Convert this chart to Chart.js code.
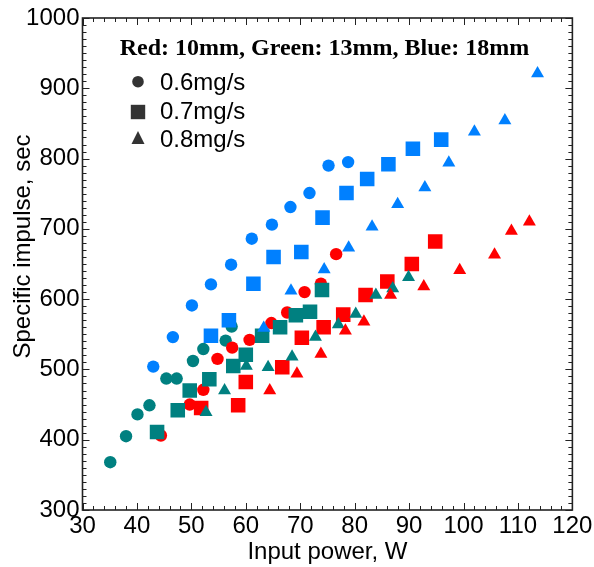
<!DOCTYPE html>
<html>
<head>
<meta charset="utf-8">
<script src="https://cdn.jsdelivr.net/npm/chart.js@4"></script>
<style>
  html, body { margin: 0; padding: 0; background: #fff; }
  #wrap { width: 594px; height: 567px; }
</style>
</head>
<body>
<div id="wrap"><canvas id="chart"></canvas></div>
<script>
// values: input power (W) and specific impulse (sec)
const greenCircleX = [35.1, 38.0, 40.1, 42.3, 45.4, 47.3, 50.3, 52.2, 56.3, 57.4];
const greenCircleY = [368, 405, 436, 449, 487, 487, 512, 529, 541, 561];
const redCircleX = [44.4, 49.7, 52.2, 54.8, 57.5, 60.7, 64.7, 67.6, 70.8, 73.8, 76.6];
const redCircleY = [406, 450, 471, 515, 531, 542, 566, 581, 610, 622, 664];
const blueCircleX = [43.0, 46.6, 50.1, 53.6, 57.3, 61.1, 64.8, 68.2, 71.7, 75.2, 78.8];
const blueCircleY = [504, 546, 591, 621, 649, 686, 706, 731, 751, 790, 795];

const redSquareX = [51.8, 58.6, 60.0, 66.7, 70.3, 74.3, 77.9, 82.0, 86.0, 90.5, 94.8];
const redSquareY = [445, 449, 482, 503, 545, 560, 578, 606, 625, 650, 682];
const greenSquareX = [43.7, 47.5, 49.7, 53.3, 57.7, 60.0, 63.0, 66.3, 69.2, 71.8, 74.0];
const greenSquareY = [411, 442, 470, 486, 505, 521, 548, 560, 577, 582, 613];
const blueSquareX = [53.6, 56.9, 61.4, 65.1, 70.2, 74.1, 78.5, 82.3, 86.2, 90.7, 95.9];
const blueSquareY = [548, 570, 622, 660, 667, 716, 751, 771, 792, 814, 827];

const greenTriangleX = [52.7, 56.1, 60.1, 64.1, 68.5, 72.8, 77.0, 80.2, 83.9, 87.0, 89.9];
const greenTriangleY = [439, 470, 505, 503, 518, 546, 564, 579, 606, 615, 631];
const redTriangleX = [64.4, 69.4, 73.8, 78.3, 81.7, 86.6, 92.7, 99.3, 105.7, 108.8, 112.1];
const redTriangleY = [470, 494, 522, 555, 568, 606, 618, 641, 663, 697, 710];
const blueTriangleX = [63.3, 68.3, 74.4, 78.9, 83.2, 87.9, 92.9, 97.3, 102.0, 107.6, 113.6];
const blueTriangleY = [559, 612, 642, 673, 703, 735, 759, 794, 838, 854, 921];

const xTicks = [30, 40, 50, 60, 70, 80, 90, 100, 110, 120];
const yTicks = [300, 400, 500, 600, 700, 800, 900, 1000];
const legendLabels = ['0.6mg/s', '0.7mg/s', '0.8mg/s'];
const titleText = 'Red: 10mm, Green: 13mm, Blue: 18mm';
const xTitle = 'Input power, W';
const yTitle = 'Specific impulse, sec';

const RED = '#ff0000';
const GREEN = '#008080';
const BLUE = '#0080ff';

const toPoints = (xs, ys) => xs.map((x, i) => ({ x, y: ys[i] }));

const series = (xs, ys, color, style, radius) => ({
  data: toPoints(xs, ys),
  backgroundColor: color,
  borderColor: color,
  borderWidth: 0,
  pointStyle: style,
  pointRadius: radius,
  pointHoverRadius: radius
});

// listed bottom to top, reversed so the last one is drawn on top
const datasets = [
  series(greenCircleX, greenCircleY, GREEN, 'circle', 6.2),
  series(redCircleX, redCircleY, RED, 'circle', 6.2),
  series(blueCircleX, blueCircleY, BLUE, 'circle', 6.2),
  series(redSquareX, redSquareY, RED, 'rect', 10.3),
  series(greenSquareX, greenSquareY, GREEN, 'rect', 10.3),
  series(blueSquareX, blueSquareY, BLUE, 'rect', 10.3),
  series(greenTriangleX, greenTriangleY, GREEN, 'triangle', 7.5),
  series(redTriangleX, redTriangleY, RED, 'triangle', 7.5),
  series(blueTriangleX, blueTriangleY, BLUE, 'triangle', 7.5)
].reverse();

const FONT = '"Liberation Sans", Arial, sans-serif';

const frameAndLegend = {
  id: 'frameAndLegend',
  afterDatasetsDraw(chart) {
    const { ctx, chartArea: a, scales: { x, y } } = chart;
    ctx.save();

    // inward ticks on all four sides
    ctx.strokeStyle = '#222';
    ctx.lineWidth = 1;
    ctx.beginPath();
    for (let v = 30; v <= 120; v += 2) {
      const px = Math.round(x.getPixelForValue(v)) + 0.5;
      const len = v % 10 === 0 ? 7 : 4;
      ctx.moveTo(px, a.bottom); ctx.lineTo(px, a.bottom - len);
      ctx.moveTo(px, a.top); ctx.lineTo(px, a.top + len);
    }
    for (let v = 300; v <= 1000; v += 10) {
      const py = Math.round(y.getPixelForValue(v)) + 0.5;
      const len = v % 100 === 0 ? 7 : 4;
      ctx.moveTo(a.left, py); ctx.lineTo(a.left + len, py);
      ctx.moveTo(a.right, py); ctx.lineTo(a.right - len, py);
    }
    ctx.stroke();

    ctx.lineWidth = 1.6;
    ctx.strokeRect(a.left, a.top, a.right - a.left, a.bottom - a.top);

    // title
    ctx.fillStyle = '#000';
    ctx.font = 'bold 24px "Liberation Serif", "Times New Roman", serif';
    ctx.textAlign = 'center';
    ctx.textBaseline = 'alphabetic';
    ctx.fillText(titleText, 324.5, 54.5);

    // y axis title, sits a little above the middle of the axis
    ctx.save();
    ctx.translate(23, 246.5);
    ctx.rotate(-Math.PI / 2);
    ctx.font = '24px ' + FONT;
    ctx.textBaseline = 'middle';
    ctx.fillText(yTitle, 0, 0);
    ctx.restore();

    // legend
    const lx = 138;
    ctx.fillStyle = '#333';
    ctx.beginPath();
    ctx.arc(lx, 81.7, 5.8, 0, Math.PI * 2);
    ctx.fill();
    ctx.fillRect(lx - 7.2, 112 - 7.2, 14.4, 14.4);
    ctx.beginPath();
    ctx.moveTo(lx, 131);
    ctx.lineTo(lx + 6.5, 144);
    ctx.lineTo(lx - 6.5, 144);
    ctx.closePath();
    ctx.fill();

    ctx.fillStyle = '#000';
    ctx.font = '24px ' + FONT;
    ctx.textAlign = 'left';
    ctx.textBaseline = 'alphabetic';
    const baselines = [90, 118.7, 147];
    legendLabels.forEach((t, i) => ctx.fillText(t, 160, baselines[i]));

    ctx.restore();
  }
};

new Chart(document.getElementById('chart'), {
  type: 'scatter',
  data: { datasets },
  options: {
    responsive: true,
    maintainAspectRatio: false,
    animation: false,
    layout: { padding: { top: 18, right: 20, left: 0, bottom: 0 } },
    plugins: {
      legend: { display: false },
      tooltip: { enabled: false }
    },
    scales: {
      x: {
        type: 'linear',
        min: 30,
        max: 120,
        afterBuildTicks: (scale) => { scale.ticks = xTicks.map(value => ({ value })); },
        afterFit: (scale) => { scale.height = 57; },
        grid: { display: false, drawTicks: false },
        border: { display: false },
        ticks: {
          color: '#000',
          font: { family: FONT, size: 24 },
          padding: 1.6,
          maxRotation: 0,
          autoSkip: false,
          callback: (v) => String(v)
        },
        title: {
          display: true,
          text: xTitle,
          color: '#000',
          font: { family: FONT, size: 24 },
          padding: { top: 0, bottom: 0 }
        }
      },
      y: {
        type: 'linear',
        min: 300,
        max: 1000,
        afterBuildTicks: (scale) => { scale.ticks = yTicks.map(value => ({ value })); },
        afterFit: (scale) => { scale.width = 82.5; },
        grid: { display: false, drawTicks: false },
        border: { display: false },
        ticks: {
          color: '#000',
          font: { family: FONT, size: 24 },
          padding: 3,
          autoSkip: false,
          callback: (v) => String(v)
        }
      }
    }
  },
  plugins: [frameAndLegend]
});
</script>
</body>
</html>
